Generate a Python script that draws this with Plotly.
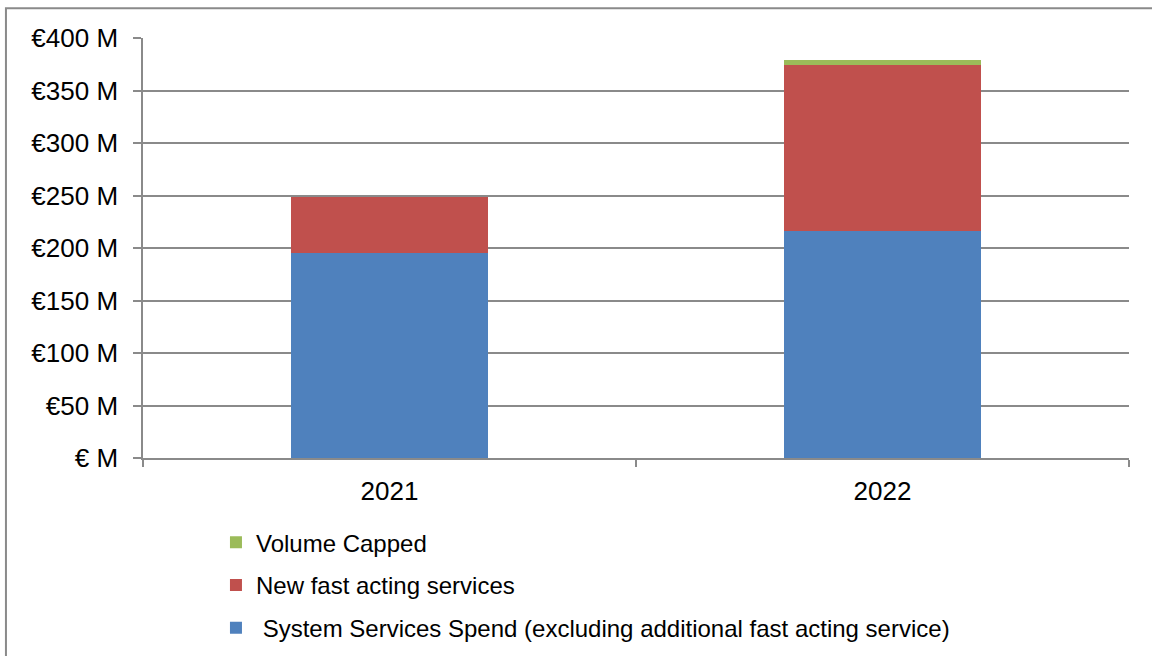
import plotly.graph_objects as go

# Annual system services spend, € millions
years = ["2021", "2022"]
system_services = [195.7, 216.0]
new_fast_acting = [52.9, 158.7]
volume_capped = [0.0, 4.8]

y_tick_values = [0, 50, 100, 150, 200, 250, 300, 350, 400]
y_tick_labels = ["€ M", "€50 M", "€100 M", "€150 M", "€200 M",
                 "€250 M", "€300 M", "€350 M", "€400 M"]

# (legend label, values, colour, legend rank) - stacked bottom to top
series = [
    (" System Services Spend (excluding additional fast acting service)", system_services, "#4F81BD", 3),
    ("New fast acting services", new_fast_acting, "#C0504D", 2),
    ("Volume Capped", volume_capped, "#9BBB59", 1),
]

fig = go.Figure()
for i, (name, vals, color, rank) in enumerate(series):
    fig.add_trace(go.Bar(
        x=years, y=vals, name=name, legendgroup=f"g{i}", legendrank=rank,
        marker=dict(color=color, line=dict(width=0)),
        width=0.4,
    ))

grid_color = "#8A8A8A"
fig.update_layout(
    barmode="stack",
    width=1152, height=656,
    margin=dict(l=143, r=23, t=38, b=198, autoexpand=False),
    paper_bgcolor="white", plot_bgcolor="white",
    font=dict(family="Liberation Sans, Arial, sans-serif", size=26, color="#000000"),
    showlegend=True,
    legend=dict(
        x=0.074, y=-0.148, xanchor="left", yanchor="top",
        traceorder="grouped", tracegroupgap=8.5,
        font=dict(size=24), itemwidth=30,
    ),
    xaxis=dict(
        type="category", showgrid=False,
        showline=True, linecolor=grid_color, linewidth=1.5,
        ticks="outside", tickson="boundaries", ticklen=7,
        tickcolor=grid_color, tickwidth=1.5,
        tickfont=dict(size=26), ticklabelstandoff=9,
    ),
    yaxis=dict(
        range=[0, 400], tickvals=y_tick_values, ticktext=y_tick_labels,
        showgrid=True, gridcolor=grid_color, gridwidth=1.5,
        showline=True, linecolor=grid_color, linewidth=1.5,
        ticks="outside", ticklen=8, tickcolor=grid_color, tickwidth=1.5,
        tickfont=dict(size=26), zeroline=False, ticklabelstandoff=10,
    ),
    shapes=[dict(
        type="rect", xref="paper", yref="paper",
        x0=-0.139, x1=1.04, y0=-0.5, y1=1.071,
        line=dict(color="#8A8A8A", width=2), layer="below",
    )],
)

fig.write_html("out.html")
